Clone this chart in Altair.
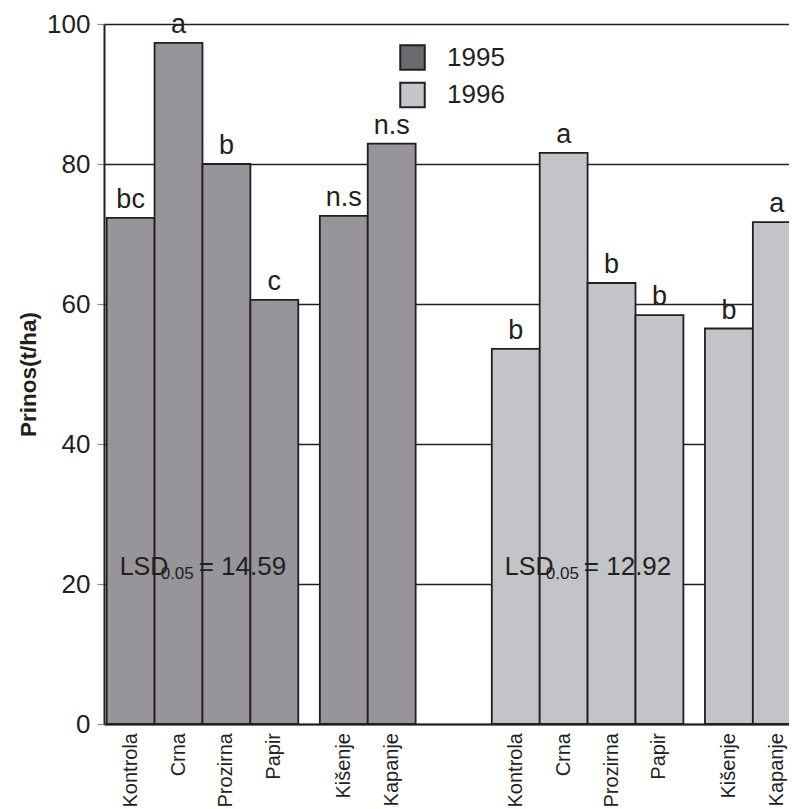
import altair as alt
import pandas as pd

# ---- data ----
treatments = ["Kontrola", "Crna", "Prozirna", "Papir", "Kišenje", "Kapanje"]
years = ["1995", "1996"]
yield_1995 = [72.3, 97.3, 80.0, 60.6, 72.6, 82.9]
yield_1996 = [53.6, 81.6, 63.0, 58.4, 56.5, 71.7]
letters_1995 = ["bc", "a", "b", "c", "n.s", "n.s"]
letters_1996 = ["b", "a", "b", "b", "b", "a"]
lsd_values = ["14.59", "12.92"]
y_ticks = [0, 20, 40, 60, 80, 100]

# ---- styling / layout ----
bar_colors = ["#979599", "#c3c4c8"]
legend_colors = ["#6b696e", "#c4c5c9"]
INK = "#231f20"
REGULAR = "Liberation Sans, Arial"

BAR_PX = 47.9        # pixel width of one bar slot
PLOT_W, PLOT_H = 685, 700
START = 0.056        # offset of first bar (in bar widths)
SMALL_GAP = 0.45     # gap between mulch and irrigation sub-groups
GROUP_STEP = 8.04    # distance between the two years
X_MAX = PLOT_W / BAR_PX

rows = []
for g, (yr, vals, lets) in enumerate(zip(years, [yield_1995, yield_1996], [letters_1995, letters_1996])):
    for i, (t, v, l) in enumerate(zip(treatments, vals, lets)):
        left = START + g * GROUP_STEP + i + (SMALL_GAP if i >= 4 else 0)
        rows.append({"year": yr, "treatment": t, "value": v, "letter": l,
                     "x0": left, "x1": left + 1, "xc": left + 0.5})
df = pd.DataFrame(rows)

lsd_df = pd.DataFrame({
    "year": years,
    "x0": [START + g * GROUP_STEP for g in range(len(years))],
    "lsd": ["= " + v for v in lsd_values],
})

legend_df = pd.DataFrame({"year": years, "color": legend_colors})

xscale = alt.Scale(domain=[0, X_MAX], nice=False, zero=False)
yscale = alt.Scale(domain=[0, 100], nice=False)

yaxis = alt.Axis(
    values=y_ticks, grid=True, gridColor=INK, gridWidth=1.6,
    domainColor=INK, domainWidth=2, tickColor="#8a8a8a", tickSize=7, tickWidth=1.2,
    labelFont=REGULAR, labelFontSize=26, labelColor=INK, labelPadding=7,
    title="Prinos(t/ha)", titleFont=REGULAR, titleFontSize=22.5, titleFontWeight="bold",
    titleColor=INK, titleX=-76, titleY=350, titleAlign="center", titleBaseline="middle",
)
xaxis = alt.Axis(domain=True, domainColor=INK, domainWidth=2, ticks=False,
                 labels=False, grid=False, title=None)

bars = alt.Chart(df).mark_bar(stroke=INK, strokeWidth=1.8).encode(
    x=alt.X("x0:Q", scale=xscale, axis=xaxis),
    x2="x1:Q",
    y=alt.Y("value:Q", scale=yscale, axis=yaxis),
    y2=alt.datum(0),
    color=alt.Color("year:N", scale=alt.Scale(domain=years, range=bar_colors), legend=None),
)

letters = alt.Chart(df).mark_text(
    font=REGULAR, fontSize=27, baseline="alphabetic", dy=-10, color=INK
).encode(
    x=alt.X("xc:Q", scale=xscale),
    y=alt.Y("value:Q", scale=yscale),
    text="letter:N",
)

xlabels = alt.Chart(df).mark_text(
    font=REGULAR, fontSize=20, angle=270, align="right", baseline="middle",
    dx=-9, color=INK
).encode(
    x=alt.X("xc:Q", scale=xscale),
    y=alt.datum(0),
    text="treatment:N",
)

lsd_main = alt.Chart(lsd_df).mark_text(
    font=REGULAR, fontSize=25, align="left", baseline="alphabetic", dx=13, color=INK
).encode(x=alt.X("x0:Q", scale=xscale), y=alt.datum(21.3), text=alt.value("LSD"))

lsd_sub = alt.Chart(lsd_df).mark_text(
    font=REGULAR, fontSize=17, align="left", baseline="alphabetic", dx=54, dy=4, color=INK
).encode(x=alt.X("x0:Q", scale=xscale), y=alt.datum(21.3), text=alt.value("0.05"))

lsd_val = alt.Chart(lsd_df).mark_text(
    font=REGULAR, fontSize=26, align="left", baseline="alphabetic", dx=92, color=INK
).encode(x=alt.X("x0:Q", scale=xscale), y=alt.datum(21.3), text="lsd:N")

main = alt.layer(bars, letters, xlabels, lsd_main, lsd_sub, lsd_val)

leg_y = alt.Y("year:N", scale=alt.Scale(domain=years, range=[33.5, 71], padding=0), axis=None)
legend_sq = alt.Chart(legend_df).mark_square(
    size=600, filled=True, stroke=INK, strokeWidth=2, opacity=1
).encode(
    x=alt.value(308.5), y=leg_y,
    fill=alt.Fill("color:N", scale=None, legend=None),
)
legend_txt = alt.Chart(legend_df).mark_text(
    font=REGULAR, fontSize=26, align="left", baseline="middle", color=INK
).encode(x=alt.value(343), y=leg_y, text="year:N")

chart = alt.layer(main, legend_sq, legend_txt).resolve_scale(y="independent").properties(
    width=PLOT_W, height=PLOT_H,
    autosize=alt.AutoSizeParams(type="none"),
    padding={"left": 96, "top": 16, "right": 0, "bottom": 85},
).configure_view(stroke=None).configure(background="white")

chart.save("out.html", embed_options={"renderer": "svg", "actions": False})
